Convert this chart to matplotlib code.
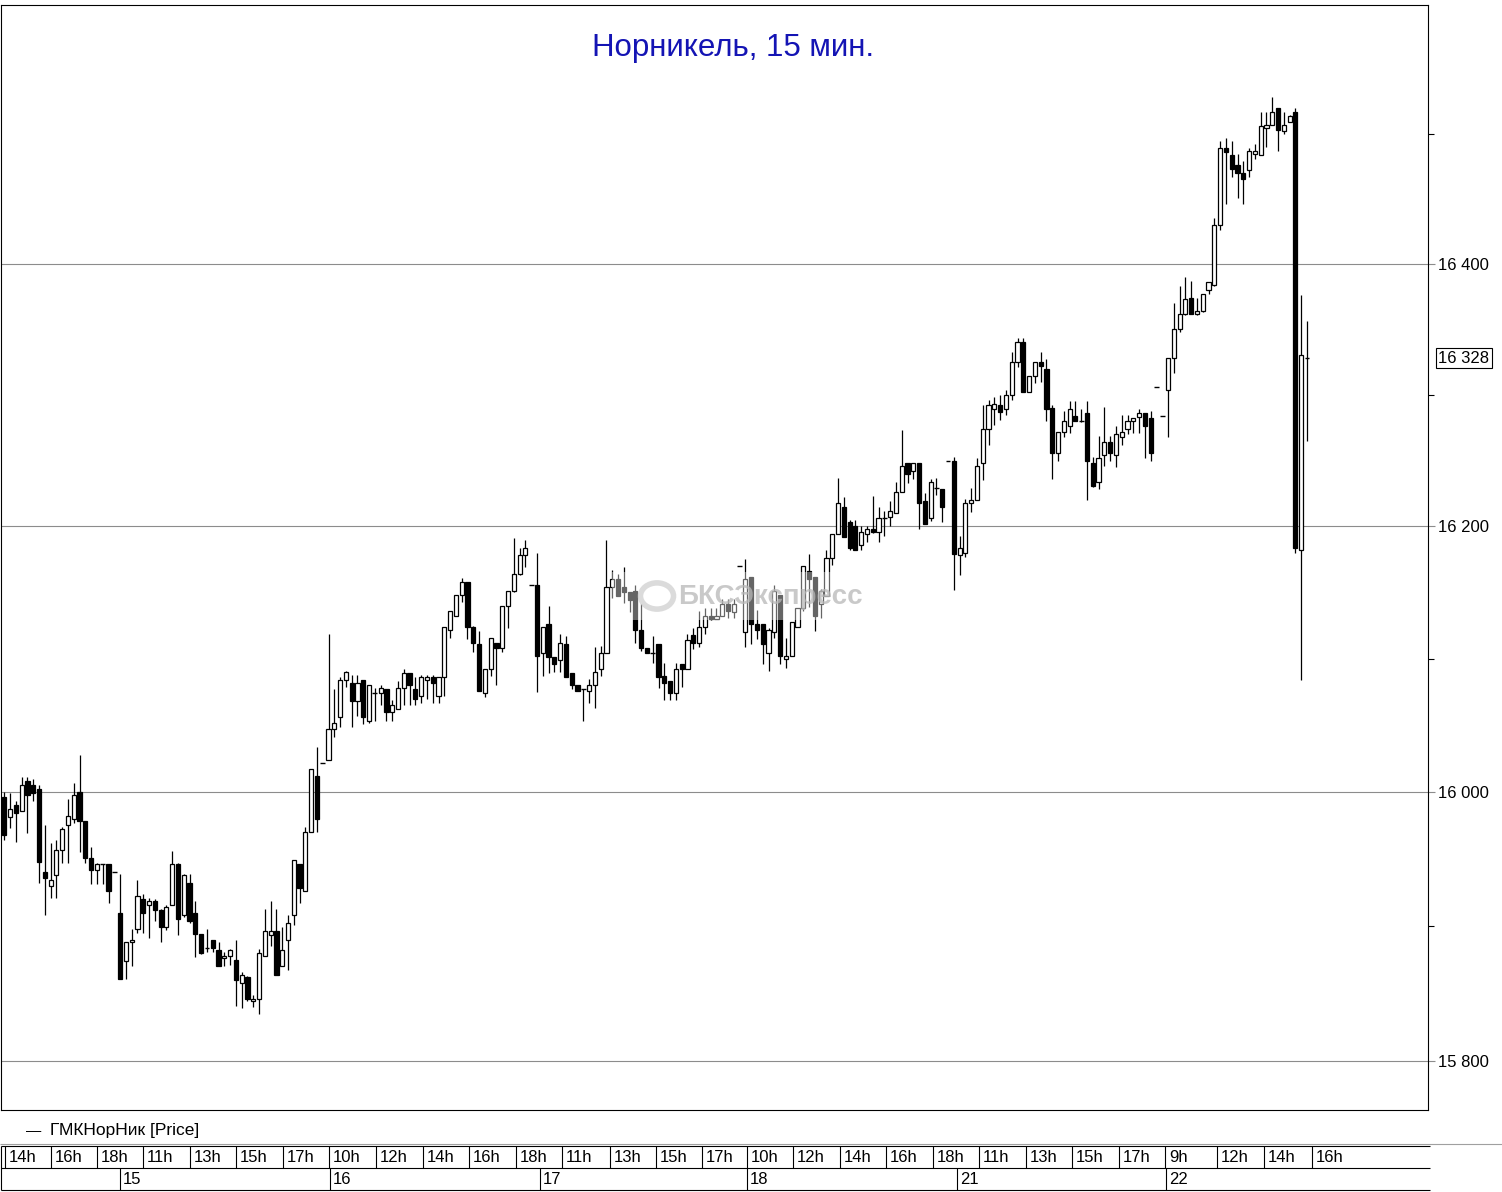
import matplotlib
matplotlib.use("Agg")
import matplotlib.pyplot as plt
import matplotlib.transforms as mtransforms
from matplotlib.patches import Rectangle, Circle
from matplotlib.ticker import NullFormatter
import numpy as np

plt.rcParams['font.family'] = ['Liberation Sans', 'DejaVu Sans']

title = "Норникель, 15 мин."
series_name = "ГМКНорНик [Price]"
watermark = "БКСЭкспресс"

# 15-min candles, 14:00 on the 14th .. 15:45 on the 22nd
open_ = [
    # 14th
    15996, 15981, 15990, 15986, 16008, 16005, 16002, 15940, 15930, 15938, 15957, 15975,
    15980, 16000, 15978, 15951, 15942, 15946, 15946, 15940,
    # 15th
    15910, 15874, 15888, 15898, 15920, 15916, 15919, 15912, 15899, 15916, 15946, 15908,
    15932, 15910, 15894, 15884, 15890, 15882, 15876, 15878, 15875, 15858, 15862, 15844,
    15846, 15878, 15893, 15896, 15870, 15890, 15908, 15946, 15926, 15970, 16012, 16022,
    # 16th
    16024, 16047, 16056, 16084, 16082, 16068, 16084, 16053, 16074, 16074, 16077, 16060,
    16062, 16078, 16089, 16077, 16072, 16084, 16086, 16072, 16086, 16122, 16132, 16148,
    16158, 16124, 16111, 16074, 16092, 16112, 16108, 16140, 16151, 16164, 16178, 16156,
    # 17th
    16156, 16104, 16126, 16101, 16099, 16111, 16089, 16080, 16077, 16076, 16080, 16092,
    16104, 16154, 16160, 16154, 16150, 16151, 16122, 16108, 16104, 16111, 16087, 16083,
    16074, 16096, 16092, 16118, 16112, 16124, 16132, 16130, 16132, 16141, 16135, 16170,
    # 18th
    16120, 16162, 16126, 16126, 16104, 16120, 16148, 16100, 16102, 16124, 16138, 16166,
    16162, 16141, 16147, 16176, 16194, 16215, 16203, 16200, 16186, 16194, 16198, 16196,
    16206, 16207, 16210, 16226, 16248, 16242, 16248, 16219, 16206, 16229, 16228, 16250,
    # 21st
    16250, 16178, 16180, 16218, 16220, 16248, 16274, 16289, 16292, 16289, 16300, 16325,
    16340, 16302, 16314, 16325, 16320, 16290, 16256, 16272, 16276, 16284, 16280, 16286,
    16248, 16234, 16254, 16264, 16254, 16268, 16274, 16280, 16283, 16286, 16282, 16306,
    # 22nd
    16284, 16304, 16328, 16350, 16362, 16374, 16362, 16364, 16380, 16384, 16430, 16489,
    16484, 16476, 16470, 16472, 16485, 16484, 16505, 16507, 16520, 16502, 16509, 16517,
    16182, 16328,
]
high = [
    16000, 15999, 15993, 16011, 16011, 16010, 16005, 15975, 15962, 15964, 15974, 15995,
    16007, 16028, 15978, 15959, 15947, 15946, 15946, 15940,
    15939, 15888, 15898, 15934, 15924, 15921, 15920, 15913, 15916, 15956, 15947, 15939,
    15939, 15919, 15894, 15898, 15890, 15888, 15881, 15883, 15890, 15866, 15863, 15849,
    15883, 15913, 15919, 15913, 15899, 15908, 15949, 15946, 15974, 16017, 16034, 16022,
    16119, 16077, 16086, 16091, 16088, 16088, 16084, 16080, 16078, 16080, 16077, 16069,
    16083, 16092, 16089, 16086, 16088, 16088, 16088, 16086, 16124, 16136, 16148, 16161,
    16158, 16125, 16121, 16092, 16116, 16112, 16140, 16151, 16191, 16184, 16190, 16156,
    16180, 16124, 16140, 16101, 16119, 16117, 16089, 16080, 16077, 16085, 16109, 16110,
    16190, 16167, 16164, 16169, 16150, 16156, 16141, 16108, 16117, 16111, 16097, 16083,
    16097, 16096, 16119, 16123, 16136, 16138, 16138, 16138, 16145, 16145, 16145, 16170,
    16175, 16162, 16137, 16126, 16123, 16156, 16148, 16116, 16128, 16138, 16170, 16179,
    16162, 16153, 16182, 16194, 16237, 16222, 16205, 16205, 16200, 16200, 16223, 16215,
    16212, 16219, 16234, 16273, 16248, 16248, 16248, 16225, 16236, 16237, 16228, 16250,
    16253, 16193, 16221, 16229, 16252, 16292, 16296, 16298, 16300, 16304, 16333, 16343,
    16343, 16314, 16325, 16333, 16327, 16292, 16272, 16288, 16295, 16295, 16289, 16295,
    16253, 16269, 16291, 16269, 16276, 16285, 16285, 16282, 16289, 16286, 16288, 16306,
    16284, 16328, 16370, 16383, 16390, 16387, 16374, 16377, 16386, 16435, 16495, 16497,
    16495, 16485, 16479, 16489, 16492, 16517, 16517, 16529, 16520, 16517, 16515, 16520,
    16376, 16356,
]
low = [
    15964, 15973, 15963, 15986, 15969, 15993, 15932, 15908, 15921, 15921, 15947, 15947,
    15977, 15955, 15947, 15931, 15931, 15931, 15917, 15940,
    15861, 15861, 15870, 15895, 15895, 15891, 15904, 15888, 15897, 15916, 15893, 15907,
    15902, 15877, 15879, 15881, 15881, 15870, 15870, 15871, 15841, 15839, 15844, 15840,
    15835, 15878, 15885, 15864, 15870, 15867, 15901, 15917, 15926, 15970, 15970, 16022,
    16024, 16041, 16049, 16079, 16049, 16057, 16051, 16052, 16053, 16065, 16053, 16053,
    16062, 16065, 16065, 16065, 16067, 16070, 16067, 16067, 16072, 16116, 16132, 16143,
    16115, 16105, 16076, 16071, 16087, 16080, 16105, 16123, 16150, 16163, 16169, 16156,
    16075, 16087, 16089, 16090, 16090, 16086, 16077, 16076, 16053, 16067, 16063, 16087,
    16104, 16146, 16147, 16142, 16135, 16112, 16106, 16104, 16097, 16078, 16069, 16069,
    16069, 16079, 16092, 16107, 16109, 16119, 16129, 16130, 16132, 16131, 16131, 16170,
    16109, 16111, 16115, 16096, 16091, 16116, 16096, 16093, 16102, 16124, 16136, 16139,
    16121, 16131, 16147, 16171, 16194, 16192, 16182, 16182, 16182, 16188, 16195, 16188,
    16193, 16200, 16210, 16226, 16233, 16236, 16198, 16202, 16204, 16224, 16203, 16250,
    16152, 16163, 16177, 16211, 16220, 16235, 16262, 16277, 16281, 16285, 16296, 16321,
    16302, 16302, 16309, 16310, 16280, 16236, 16250, 16268, 16271, 16280, 16279, 16220,
    16230, 16228, 16246, 16250, 16245, 16262, 16270, 16271, 16271, 16252, 16250, 16306,
    16284, 16268, 16317, 16348, 16361, 16362, 16361, 16363, 16377, 16383, 16426, 16446,
    16467, 16451, 16446, 16467, 16481, 16484, 16490, 16507, 16487, 16500, 16509, 16180,
    16084, 16265,
]
close = [
    15968, 15987, 15984, 16005, 15998, 15999, 15948, 15936, 15934, 15957, 15972, 15982,
    15998, 15978, 15951, 15942, 15946, 15946, 15926, 15940,
    15861, 15888, 15890, 15922, 15910, 15919, 15912, 15899, 15914, 15946, 15905, 15938,
    15904, 15894, 15880, 15884, 15884, 15870, 15878, 15882, 15860, 15864, 15846, 15846,
    15880, 15896, 15896, 15864, 15882, 15902, 15949, 15928, 15970, 16017, 15980, 16022,
    16047, 16052, 16084, 16090, 16068, 16082, 16056, 16080, 16074, 16078, 16060, 16065,
    16078, 16089, 16080, 16070, 16086, 16086, 16082, 16086, 16124, 16136, 16148, 16158,
    16124, 16112, 16076, 16092, 16116, 16108, 16140, 16151, 16164, 16178, 16184, 16156,
    16102, 16124, 16101, 16096, 16112, 16086, 16080, 16076, 16077, 16080, 16090, 16104,
    16154, 16160, 16147, 16150, 16144, 16122, 16108, 16104, 16104, 16086, 16082, 16074,
    16092, 16092, 16114, 16112, 16124, 16132, 16130, 16132, 16141, 16136, 16141, 16170,
    16160, 16126, 16122, 16111, 16122, 16151, 16102, 16102, 16128, 16138, 16170, 16160,
    16132, 16151, 16176, 16194, 16218, 16192, 16184, 16182, 16196, 16198, 16196, 16206,
    16206, 16212, 16226, 16246, 16240, 16248, 16218, 16202, 16234, 16229, 16215, 16250,
    16179, 16184, 16218, 16220, 16246, 16274, 16292, 16293, 16287, 16300, 16325, 16340,
    16302, 16314, 16325, 16322, 16289, 16256, 16272, 16280, 16289, 16280, 16280, 16250,
    16231, 16252, 16264, 16256, 16270, 16272, 16280, 16282, 16286, 16276, 16256, 16306,
    16284, 16328, 16350, 16362, 16373, 16362, 16364, 16377, 16386, 16430, 16489, 16486,
    16473, 16470, 16465, 16487, 16487, 16506, 16507, 16517, 16503, 16507, 16514, 16184,
    16330, 16328,
]

hour_labels = ["14h", "16h", "18h", "11h", "13h", "15h", "17h", "10h", "12h", "14h",
               "16h", "18h", "11h", "13h", "15h", "17h", "10h", "12h", "14h", "16h",
               "18h", "11h", "13h", "15h", "17h", "9h", "12h", "14h", "16h"]
day_labels = ["15", "16", "17", "18", "21", "22"]
price_ticks = [15800, 16000, 16200, 16400]
price_minor = [15900, 16100, 16300, 16500]
last_price = 16328

# layout of the time strip, in pixels
hour_edges = [4.8, 50.5, 97, 143, 190, 235.5, 282.7, 329, 376, 423, 469, 516, 562, 610,
              656, 702, 747, 793, 840, 886, 933, 979, 1026, 1072, 1119, 1165, 1217, 1264,
              1311.6]
day_edges = [120, 330, 540, 747, 957, 1166]

W, H = 1502, 1192
fig = plt.figure(figsize=(W / 100, H / 100), dpi=100)
fig.patch.set_facecolor("white")

ax = fig.add_axes([1 / W, (H - 1110) / H, 1427 / W, 1105 / H])
o = np.array(open_, dtype=float)
h = np.array(high, dtype=float)
l = np.array(low, dtype=float)
c = np.array(close, dtype=float)
x = np.arange(len(c))
up = c > o
dn = c < o
fl = c == o

ax.set_yscale("log")
for p in price_ticks:
    ax.axhline(p, color="#8c8c8c", lw=0.8, zorder=1)

ax.vlines(x, l, h, color="black", lw=0.9, zorder=2)
ax.bar(x[up], (c - o)[up], bottom=o[up], width=0.72, color="white",
       edgecolor="black", linewidth=0.9, zorder=3)
ax.bar(x[dn], (o - c)[dn], bottom=c[dn], width=0.72, color="black",
       edgecolor="black", linewidth=0.9, zorder=3)
ax.hlines(o[fl], x[fl] - 0.42, x[fl] + 0.42, color="black", lw=1.0, zorder=3)

ax.set_xlim(-0.57, 245.9)
ax.set_ylim(15763.8, 16599.9)
ax.set_xticks([])
ax.yaxis.tick_right()
ax.set_yticks(price_ticks)
ax.set_yticklabels([f"{p:,}".replace(",", " ") for p in price_ticks])
ax.set_yticks(price_minor, minor=True)
ax.yaxis.set_minor_formatter(NullFormatter())
ax.tick_params(axis="y", which="major", direction="out", length=5, width=0.8,
               color="#8c8c8c", pad=2.5, labelsize=12, right=True, left=False)
ax.tick_params(axis="y", which="minor", direction="out", length=4, width=0.8,
               color="black", right=True, left=False)
for s in ax.spines.values():
    s.set_color("black")
    s.set_linewidth(0.8)

trans = mtransforms.blended_transform_factory(ax.transAxes, ax.transData)
ax.text(1.0072, last_price, f"{last_price:,}".replace(",", " "), transform=trans,
        ha="left", va="center", fontsize=12, clip_on=False,
        bbox=dict(boxstyle="square,pad=0.15", fc="white", ec="black", lw=0.8))

# title
fig.text(733 / W, 1 - 48 / H, title, ha="center", va="center", fontsize=22.5,
         color="#1414b4")

# watermark
fig.patches.append(Rectangle((612 / W, 1 - 620 / H), 258 / W, 48 / H,
                             transform=fig.transFigure, fc="white", ec="none",
                             alpha=0.4, zorder=4))
fig.patches.append(Circle((657 / W, 1 - 596 / H), 0.011, transform=fig.transFigure,
                          fc="none", ec="#c4c4c4", lw=4, alpha=0.6, zorder=5))
fig.text(678 / W, 1 - 597 / H, watermark, ha="left", va="center", fontsize=20,
         color="#b8b8b8", alpha=0.75, weight="bold", zorder=5)

# time strip and legend
ax_t = fig.add_axes([0, 0, 1, (H - 1110) / H])
ax_t.set_xlim(0, W)
ax_t.set_ylim(H, 1110)
ax_t.axis("off")
ax_t.text(26, 1131, "—", ha="left", va="center", fontsize=11)
ax_t.text(50, 1131, series_name, ha="left", va="center", fontsize=12.5)
ax_t.hlines(1144.3, 0, W, color="#a0a0a0", lw=0.8)
ax_t.hlines([1146, 1168, 1190], 1.4, 1430, color="black", lw=0.8)
ax_t.vlines(1.4, 1146, 1190, color="black", lw=0.8)
ax_t.vlines(hour_edges, 1146, 1168, color="black", lw=0.8)
ax_t.vlines(day_edges, 1168, 1190, color="black", lw=0.8)
for e, t in zip(hour_edges, hour_labels):
    ax_t.text(e + 4, 1157.5, t, ha="left", va="center", fontsize=12)
for e, t in zip(day_edges, day_labels):
    ax_t.text(e + 3, 1179.5, t, ha="left", va="center", fontsize=12)

fig.savefig("out.png", dpi=100, facecolor="white")
